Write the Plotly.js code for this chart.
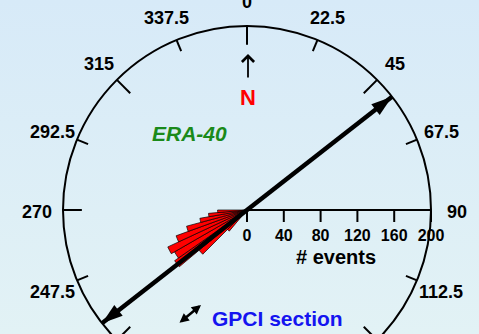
<!DOCTYPE html>
<html><head><meta charset="utf-8">
<script src="https://cdn.plot.ly/plotly-3.0.1.min.js"></script>
<style>
html,body{margin:0;padding:0;width:479px;height:334px;overflow:hidden;}
body{background:linear-gradient(to bottom,#d7eaf8 0%,#e2f2f5 100%);}
#wrap{width:479px;height:334px;overflow:hidden;position:relative;}
#chart{width:479px;height:420px;}
</style></head><body>
<div id="wrap"><div id="chart"></div></div>
<script>
// ---- data ----
const binDirections = [222.5, 227.5, 232.5, 237.5, 242.5, 247.5, 252.5, 257.5, 262.5, 267.5];
const eventCounts   = [30, 68, 96, 91, 95, 82, 68, 52, 42, 32];
const binWidth = 5;
const sectionDirections = [52, 232];
const sectionLength = [200, 200];
const compassTicks  = [0, 22.5, 45, 67.5, 90, 112.5, 135, 157.5, 180, 202.5, 225, 247.5, 270, 292.5, 315, 337.5];
const compassLabels = ['0', '22.5', '45', '67.5', '90', '112.5', '135', '157.5', '180', '202.5', '225', '247.5', '270', '292.5', '315', '337.5'];
const radialTicks   = [0, 40, 80, 120, 160, 200];
const radialMax = 200;
const radialTitle = '# events';

// ---- page geometry helpers ----
const W = 479, H = 420;
const CX = 247, CY = 210, RPX = 184;      // polar centre and radius in pixels
const px = x => x / W;
const py = y => 1 - y / H;
const FONT = 'Liberation Sans, Arial, sans-serif';

// inner compass ticks (long at multiples of 45, short otherwise)
const tickR = [], tickT = [];
compassTicks.forEach(a => {
  const len = (a % 45 === 0) ? 20.5 : 13;
  tickR.push(radialMax, radialMax - len, null);
  tickT.push(a, a, null);
});

const traces = [
  {
    type: 'barpolar',
    r: eventCounts,
    theta: binDirections,
    width: binWidth,
    marker: {color: '#ff0000', line: {color: '#000000', width: 0.7}},
    hoverinfo: 'skip'
  },
  {
    type: 'scatterpolar',
    mode: 'lines',
    r: tickR,
    theta: tickT,
    line: {color: '#000000', width: 2},
    connectgaps: false,
    hoverinfo: 'skip'
  },
  {
    type: 'scatterpolar',
    mode: 'lines+markers',
    r: sectionLength,
    theta: sectionDirections,
    line: {color: '#000000', width: 4.5},
    marker: {symbol: 'arrow', size: 22, color: '#000000', angle: sectionDirections, angleref: 'up'},
    cliponaxis: false,
    hoverinfo: 'skip'
  }
];

// compass labels placed around the rim, centred on each tick direction
const labelR = 210;
const compassAnnotations = compassTicks.map((a, i) => {
  const rad = a * Math.PI / 180;
  return {
    xref: 'paper', yref: 'paper',
    x: px(CX + labelR * Math.sin(rad)), y: py(CY - labelR * Math.cos(rad) + 2),
    text: compassLabels[i], showarrow: false, xanchor: 'center', yanchor: 'middle',
    font: {family: FONT, size: 18, color: '#000000', weight: 'bold'}
  };
});

const layout = {
  width: W, height: H,
  margin: {l: 0, r: 0, t: 0, b: 0},
  paper_bgcolor: 'rgba(0,0,0,0)',
  plot_bgcolor: 'rgba(0,0,0,0)',
  showlegend: false,
  font: {family: FONT, color: '#000000', weight: 'bold'},
  polar: {
    domain: {x: [px(CX - RPX), px(CX + RPX)], y: [py(CY + RPX), py(CY - RPX)]},
    bgcolor: 'rgba(0,0,0,0)',
    angularaxis: {
      direction: 'clockwise',
      rotation: 90,
      showline: true, linecolor: '#000000', linewidth: 2,
      showgrid: false,
      ticks: '', showticklabels: false,
      tickmode: 'array', tickvals: compassTicks
    },
    radialaxis: {
      range: [0, radialMax],
      angle: 0,
      side: 'clockwise',
      showline: true, linecolor: '#000000', linewidth: 2,
      showgrid: false,
      ticks: 'outside', ticklen: 11, tickwidth: 2, tickcolor: '#000000',
      tickmode: 'array', tickvals: radialTicks, ticktext: radialTicks.map(String),
      tickangle: 0,
      tickfont: {family: FONT, size: 16, color: '#000000', weight: 'bold'}
    }
  },
  annotations: compassAnnotations.concat([
    {xref: 'paper', yref: 'paper', x: px(336), y: py(257), text: radialTitle, showarrow: false,
     xanchor: 'center', yanchor: 'middle',
     font: {family: FONT, size: 20, color: '#000000', weight: 'bold'}},
    {xref: 'paper', yref: 'paper', x: px(248), y: py(97), text: 'N', showarrow: false,
     xanchor: 'center', yanchor: 'middle',
     font: {family: FONT, size: 22, color: '#ff0000', weight: 'bold'}},
    {xref: 'paper', yref: 'paper', x: px(248), y: py(54), ax: 0, ay: 25, text: '',
     showarrow: true, arrowhead: 4, arrowsize: 1.3, arrowwidth: 1.8, arrowcolor: '#000000'},
    {xref: 'paper', yref: 'paper', x: px(189), y: py(133), text: 'ERA-40', showarrow: false,
     xanchor: 'center', yanchor: 'middle',
     font: {family: FONT, size: 21, color: '#1a8a1a', weight: 'bold', style: 'italic'}},
    {xref: 'paper', yref: 'paper', x: px(277), y: py(318), text: 'GPCI section', showarrow: false,
     xanchor: 'center', yanchor: 'middle',
     font: {family: FONT, size: 21, color: '#1414f0', weight: 'bold'}},
    {xref: 'paper', yref: 'paper', x: px(201), y: py(305), ax: -23, ay: 19, text: '',
     showarrow: true, arrowside: 'end+start', arrowhead: 2, startarrowhead: 2,
     arrowsize: 0.75, startarrowsize: 0.75, arrowwidth: 2.5, arrowcolor: '#000000'}
  ])
};

Plotly.newPlot('chart', traces, layout, {displayModeBar: false, staticPlot: true});
</script>
</body></html>
